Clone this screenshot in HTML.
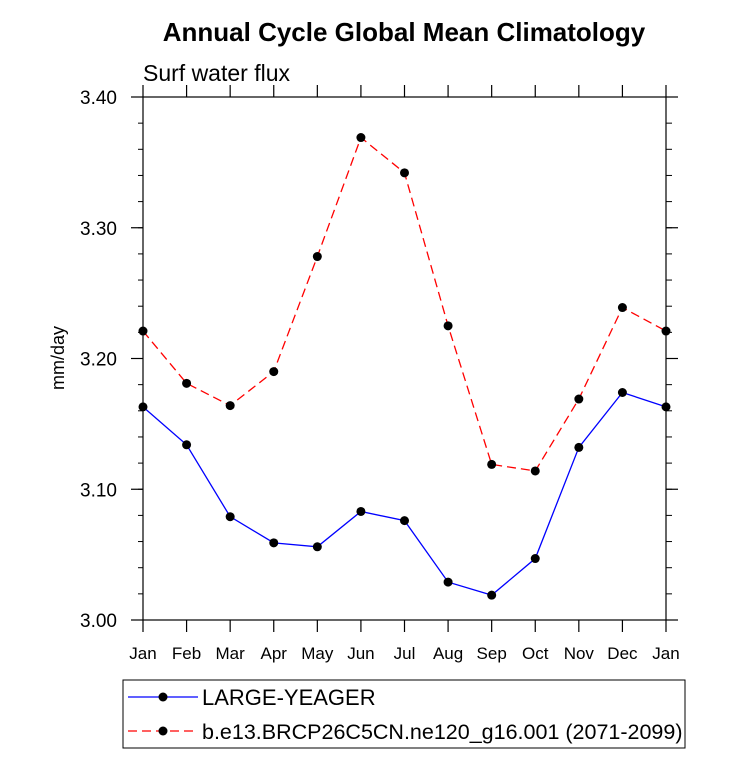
<!DOCTYPE html>
<html><head><meta charset="utf-8"><style>
body{margin:0;background:#fff;}
svg text{font-family:"Liberation Sans",Helvetica,Arial,sans-serif;}
</style></head><body>
<svg id="chart" width="733" height="755" xmlns="http://www.w3.org/2000/svg">
<text x="404" y="41" text-anchor="middle" font-size="26" font-weight="bold">Annual Cycle Global Mean Climatology</text>
<text x="143" y="81" font-size="23">Surf water flux</text>
<text transform="translate(64,358) rotate(-90)" text-anchor="middle" font-size="18">mm/day</text>
<g id="axes"></g>
<g id="series"></g>
<rect x="123" y="680" width="562" height="68" fill="none" stroke="#000" stroke-width="1"/>
<g>
<line x1="128" y1="697" x2="198" y2="697" stroke="#0000ff" stroke-width="1.3"/>
<circle cx="163" cy="697" r="4.5" fill="#000"/>
<text x="202" y="705" font-size="22">LARGE-YEAGER</text>
</g>
<g>
<line x1="128" y1="731" x2="198" y2="731" stroke="#ff0000" stroke-width="1.3" stroke-dasharray="9,5"/>
<circle cx="163" cy="731" r="4.5" fill="#000"/>
<text x="202" y="739" font-size="21.5">b.e13.BRCP26C5CN.ne120_g16.001 (2071-2099)</text>
</g>
</svg>
<script>
const months=["Jan","Feb","Mar","Apr","May","Jun","Jul","Aug","Sep","Oct","Nov","Dec","Jan"];
const yTicks=[3.00,3.10,3.20,3.30,3.40];
const yTickLabels=["3.00","3.10","3.20","3.30","3.40"];
const largeYeager=[3.163,3.134,3.079,3.059,3.056,3.083,3.076,3.029,3.019,3.047,3.132,3.174,3.163];
const brcp26=[3.221,3.181,3.164,3.190,3.278,3.369,3.342,3.225,3.119,3.114,3.169,3.239,3.221];
const X0=143,X1=666,Y0=620,Y1=97,YMIN=3.0,YMAX=3.4;
const xs=i=>X0+(X1-X0)*i/(months.length-1);
const ys=v=>Y0-(Y0-Y1)*(v-YMIN)/(YMAX-YMIN);
const NS="http://www.w3.org/2000/svg";
function mk(tag,at,parent){const e=document.createElementNS(NS,tag);for(const k in at)e.setAttribute(k,at[k]);parent.appendChild(e);return e;}
const ax=document.getElementById('axes');
const frame=mk('rect',{x:X0,y:Y1,width:X1-X0,height:Y0-Y1,fill:'none',stroke:'#000','stroke-width':1.2},ax);


months.forEach((m,i)=>{
  const x=xs(i);
  mk('line',{x1:x,y1:Y0,x2:x,y2:Y0+12,stroke:'#000','stroke-width':1.2},ax);
  mk('line',{x1:x,y1:Y1,x2:x,y2:Y1-12,stroke:'#000','stroke-width':1.2},ax);
  const t=mk('text',{x:x,y:Y0+39,'text-anchor':'middle','font-size':17},ax);
  t.textContent=m;
  
  
});
for(let v=YMIN;v<=YMAX+1e-9;v+=0.02){
  const y=ys(v);
  mk('line',{x1:X0,y1:y,x2:X0-5,y2:y,stroke:'#000','stroke-width':1},ax);
  mk('line',{x1:X1,y1:y,x2:X1+6,y2:y,stroke:'#000','stroke-width':1},ax);
}
yTicks.forEach((v,i)=>{
  const y=ys(v);
  mk('line',{x1:X0,y1:y,x2:X0-12,y2:y,stroke:'#000','stroke-width':1.2},ax);
  mk('line',{x1:X1,y1:y,x2:X1+12,y2:y,stroke:'#000','stroke-width':1.2},ax);
  const t=mk('text',{x:X0-26,y:y+7,'text-anchor':'end','font-size':19},ax);
  t.textContent=yTickLabels[i];
  
  
});
const sg=document.getElementById('series');
function drawSeries(vals,color,dash,name){
  const g=mk('g',{},sg);
  
  
  const pts=vals.map((v,i)=>xs(i)+','+ys(v)).join(' ');
  const at={points:pts,fill:'none',stroke:color,'stroke-width':1.3};
  if(dash)at['stroke-dasharray']=dash;
  const pl=mk('polyline',at,g);
  
  
  vals.forEach((v,i)=>{
    const c=mk('circle',{cx:xs(i),cy:ys(v),r:4.5,fill:'#000'},g);
    
    
  });
}
drawSeries(brcp26,'#ff0000','9,5','series-brcp26');
drawSeries(largeYeager,'#0000ff',null,'series-large-yeager');
</script>
</body></html>
